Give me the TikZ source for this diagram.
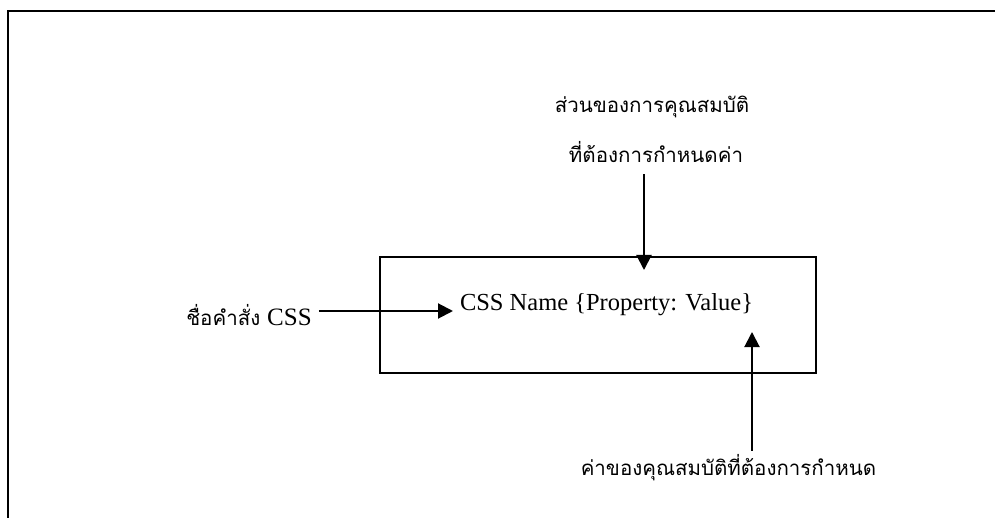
\documentclass[tikz,border=0pt]{standalone}
\usepackage{fontspec}
\setmainfont{Liberation Serif}
\newfontfamily\thaifont[Script=Thai]{Loma}
\usepackage{tikz}
\usetikzlibrary{arrows.meta}

\begin{document}
\begin{tikzpicture}[x=1bp, y=-1bp, every node/.style={font=\fontsize{24.5bp}{30bp}\selectfont, inner sep=3bp}]
  \tikzstyle{thai}=[font=\fontsize{20.5bp}{26bp}\selectfont\thaifont, anchor=base]
  \tikzstyle{arr}=[-{Triangle[length=15bp, width=15bp]}, line width=2bp]
  \useasboundingbox (0,0) rectangle (995,518);
  % frame, open to the right and bottom
  \draw[line width=2.2bp] (8,518) -- (8,11) -- (995,11);
  \node[draw, line width=1.5bp, minimum width=436bp, minimum height=116bp] (rulebox) at (598,315) {};
  \node[anchor=base] (rule) at (606.5,311) {CSS Name \{Property: Value\}};
  \node[thai] (cmd) at (249,326) {ชื่อคำสั่ง {\rmfamily\fontsize{25bp}{30bp}\selectfont CSS}};
  \node[thai] (prop1) at (652,113) {ส่วนของการคุณสมบัติ};
  \node[thai] (prop2) at (656,163) {ที่ต้องการกำหนดค่า};
  \node[thai] (val) at (728.5,475) {ค่าของคุณสมบัติที่ต้องการกำหนด};
  \coordinate (cmdtip) at (453,311);
  \coordinate (proptip) at (644,270);
  \coordinate (valtip) at (752,332);
  \draw[arr, shorten <=4bp] (cmd.east |- cmdtip) -- (cmdtip);
  \draw[arr, shorten <=8bp] (prop2.south -| proptip) -- (proptip);
  \draw[arr] (val.north -| valtip) -- (valtip);
\end{tikzpicture}
\end{document}
